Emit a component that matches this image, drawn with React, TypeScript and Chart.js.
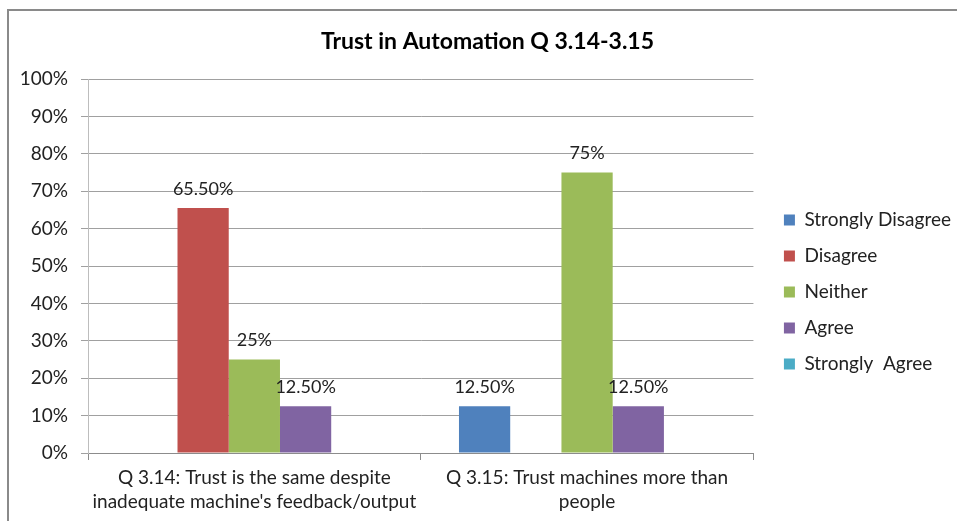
import { useEffect, useRef } from 'react';
import { Chart, registerables } from 'chart.js';

Chart.register(...registerables);

const chartTitle = 'Trust in Automation Q 3.14-3.15';
const categories = [
  ['Q 3.14: Trust is the same despite', "inadequate machine's feedback/output"],
  ['Q 3.15: Trust machines more than', 'people'],
];
const seriesNames = ['Strongly Disagree', 'Disagree', 'Neither', 'Agree', 'Strongly  Agree'];
const stronglyDisagree = [0, 12.5];
const disagree = [65.5, 0];
const neither = [25, 75];
const agree = [12.5, 12.5];
const stronglyAgree = [0, 0];
const stronglyDisagreeLabels = ['', '12.50%'];
const disagreeLabels = ['65.50%', ''];
const neitherLabels = ['25%', '75%'];
const agreeLabels = ['12.50%', '12.50%'];
const stronglyAgreeLabels = ['', ''];
const seriesColors = ['#4F81BD', '#C0504D', '#9BBB59', '#8064A2', '#4BACC6'];
const yMin = 0;
const yMax = 100;
const yStep = 10;

const FONT = 'Lato';
const TEXT = '#222222';
const LEGEND_EXTRA_WIDTH = 9.5;
const LEGEND_SHIFT = 13.5;

const valueLabelPlugin = {
  id: 'valueLabels',
  afterDatasetsDraw(chart: any) {
    const ctx = chart.ctx;
    ctx.save();
    ctx.font = `18px ${FONT}`;
    ctx.fillStyle = TEXT;
    ctx.textAlign = 'center';
    ctx.textBaseline = 'middle';
    chart.data.datasets.forEach((ds: any, i: number) => {
      const meta = chart.getDatasetMeta(i);
      meta.data.forEach((bar: any, j: number) => {
        const txt = ds.valueLabels[j];
        if (txt) ctx.fillText(txt, bar.x, bar.y - 19);
      });
    });
    ctx.restore();
  },
};

// widen the legend box by a gap on its left side
const legendGapPlugin = {
  id: 'legendGap',
  afterInit(chart: any) {
    const lg = chart.legend;
    if (!lg) return;
    const fit = lg.fit.bind(lg);
    lg.fit = () => {
      fit();
      lg.width += LEGEND_EXTRA_WIDTH;
    };
  },
  afterLayout(chart: any) {
    if (chart.legend) chart.legend.left += LEGEND_SHIFT;
  },
};

export default function App() {
  const ref = useRef<HTMLCanvasElement>(null);
  useEffect(() => {
    document.body.style.overflow = 'hidden';
    const values = [stronglyDisagree, disagree, neither, agree, stronglyAgree];
    const labels = [stronglyDisagreeLabels, disagreeLabels, neitherLabels, agreeLabels, stronglyAgreeLabels];
    const chart = new Chart(ref.current!, {
      type: 'bar',
      data: {
        labels: categories,
        datasets: seriesNames.map((name, i) => ({
          label: name,
          data: values[i],
          valueLabels: labels[i],
          backgroundColor: seriesColors[i],
          borderWidth: 0,
          barPercentage: 1,
          categoryPercentage: 0.77,
        })) as any,
      },
      options: {
        responsive: false,
        animation: false,
        layout: { padding: { top: 22, left: 18, right: 0, bottom: 38 } },
        plugins: {
          title: {
            display: true,
            text: chartTitle,
            color: '#000',
            font: { family: FONT, size: 23, weight: 'bold', lineHeight: 1.2 },
            padding: { top: 6, bottom: 23.4 },
          },
          legend: {
            position: 'right',
            labels: {
              boxWidth: 11,
              boxHeight: 11,
              padding: 17,
              color: TEXT,
              font: { family: FONT, size: 19 },
            },
          },
          tooltip: { enabled: false },
        },
        scales: {
          x: {
            grid: { display: true, drawOnChartArea: false, drawTicks: true, tickLength: 7, color: '#8c8c8c' },
            border: { color: '#8c8c8c' },
            ticks: {
              color: TEXT,
              padding: 6,
              maxRotation: 0,
              autoSkip: false,
              font: { family: FONT, size: 19, lineHeight: '24px' },
            },
            afterFit: (s: any) => { s.height = 109; },
          },
          y: {
            min: yMin,
            max: yMax,
            ticks: {
              stepSize: yStep,
              color: TEXT,
              padding: 13,
              font: { family: FONT, size: 19 },
              callback: (v: any) => `${v}%`,
            },
            grid: { color: '#a0a0a0', tickLength: 7 },
            border: { color: '#bdbdbd' },
            afterFit: (s: any) => { s.width = 70; },
          },
        },
      },
      plugins: [valueLabelPlugin, legendGapPlugin],
    });
    return () => chart.destroy();
  }, []);

  return (
    <div style={{ position: 'fixed', left: 0, top: 0, width: 957, height: 521, overflow: 'hidden', background: '#fff' }}>
      <div style={{ position: 'absolute', left: 7, top: 9, width: 1100, height: 700, border: '2px solid #8a8a8a' }} />
      <canvas ref={ref} width={957} height={600} style={{ position: 'absolute', left: 0, top: 0, width: 957, height: 600 }} />
    </div>
  );
}
